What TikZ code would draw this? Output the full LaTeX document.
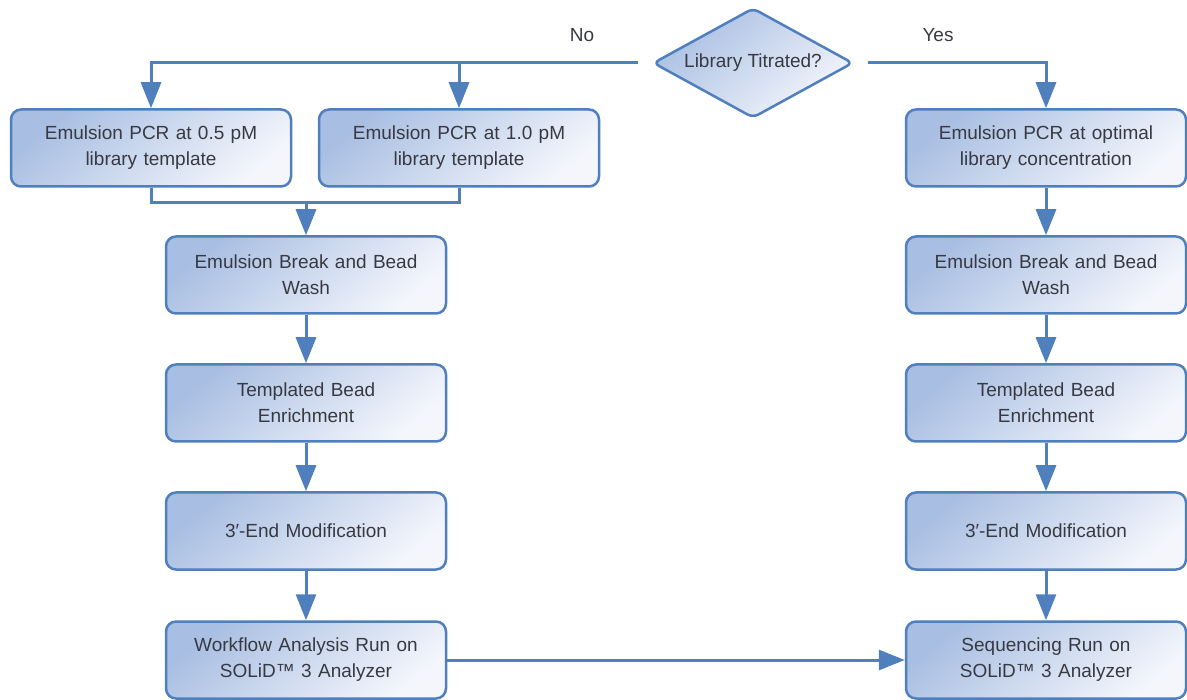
\documentclass[tikz,border=0pt]{standalone}
\usepackage{fontspec}
\setmainfont{Liberation Sans}
\usetikzlibrary{shapes.geometric,arrows.meta}

\definecolor{flowblue}{RGB}{79,127,188}
\definecolor{boxdark}{RGB}{168,190,226}
\definecolor{boxlight}{RGB}{244,246,252}
\definecolor{textgray}{RGB}{55,58,66}

\tikzset{
    stagebox/.style={rectangle, rounded corners=10pt, draw=flowblue, line width=2.5pt,
        top color=boxdark, bottom color=boxlight, shading angle=40,
        minimum width=280pt, minimum height=77pt, text width=270pt, align=center,
        text=textgray, font=\fontsize{19}{26}\selectfont},
    decision/.style={diamond, aspect=1.82, rounded corners=6pt, draw=flowblue, line width=2.5pt,
        top color=boxdark, bottom color=boxlight, shading angle=40,
        minimum width=200pt, minimum height=110pt, inner sep=0pt,
        text=textgray, font=\fontsize{19}{23}\selectfont},
    flowline/.style={draw=flowblue, line width=3pt, -{Triangle[length=26pt,width=20pt]}},
    branch/.style={text=textgray, font=\fontsize{19}{23}\selectfont}
}

\begin{document}
\begin{tikzpicture}[x=1pt, y=-1pt]
        \useasboundingbox (0, 0) rectangle (1187, 700);

        % Decision
        \node[decision] (titrated) at (753, 63) {Library Titrated?};
        \node[branch] (no) at (582, 35) {No};
        \node[branch] (yes) at (938, 35) {Yes};

        % No branch
        \node[stagebox] (pcrlow) at (151, 148) {Emulsion PCR at 0.5 pM\\library template};
        \node[stagebox] (pcrhigh) at (459, 148) {Emulsion PCR at 1.0 pM\\library template};
        \node[stagebox] (breakno) at (306, 275) {Emulsion Break and Bead\\Wash};
        \node[stagebox] (enrichno) at (306, 403) {Templated Bead\\Enrichment};
        \node[stagebox] (modno) at (306, 531) {3′-End Modification};
        \node[stagebox] (workflow) at (306, 660) {Workflow Analysis Run on\\SOLiD™ 3 Analyzer};

        % Yes branch
        \node[stagebox] (pcropt) at (1046, 148) {Emulsion PCR at optimal\\library concentration};
        \node[stagebox] (breakyes) at (1046, 275) {Emulsion Break and Bead\\Wash};
        \node[stagebox] (enrichyes) at (1046, 403) {Templated Bead\\Enrichment};
        \node[stagebox] (modyes) at (1046, 531) {3′-End Modification};
        \node[stagebox] (sequencing) at (1046, 660) {Sequencing Run on\\SOLiD™ 3 Analyzer};

        % Connectors
        \draw[flowline, shorten <=14pt] (titrated.west) -| (pcrlow);
        \draw[flowline, shorten <=14pt] (titrated.west) -| (pcrhigh);
        \draw[flowline, shorten <=14pt] (titrated.east) -| (pcropt);

        \coordinate (merge) at (306, 203);
        \draw[flowline, -] (pcrlow.south) |- (merge) -| (pcrhigh.south);
        \draw[flowline] (merge) -- (breakno);

        \draw[flowline] (breakno) -- (enrichno);
        \draw[flowline] (enrichno) -- (modno);
        \draw[flowline] (modno) -- (workflow);

        \draw[flowline] (pcropt) -- (breakyes);
        \draw[flowline] (breakyes) -- (enrichyes);
        \draw[flowline] (enrichyes) -- (modyes);
        \draw[flowline] (modyes) -- (sequencing);

        \draw[flowline] (workflow) -- (sequencing);
    \end{tikzpicture}
\end{document}
